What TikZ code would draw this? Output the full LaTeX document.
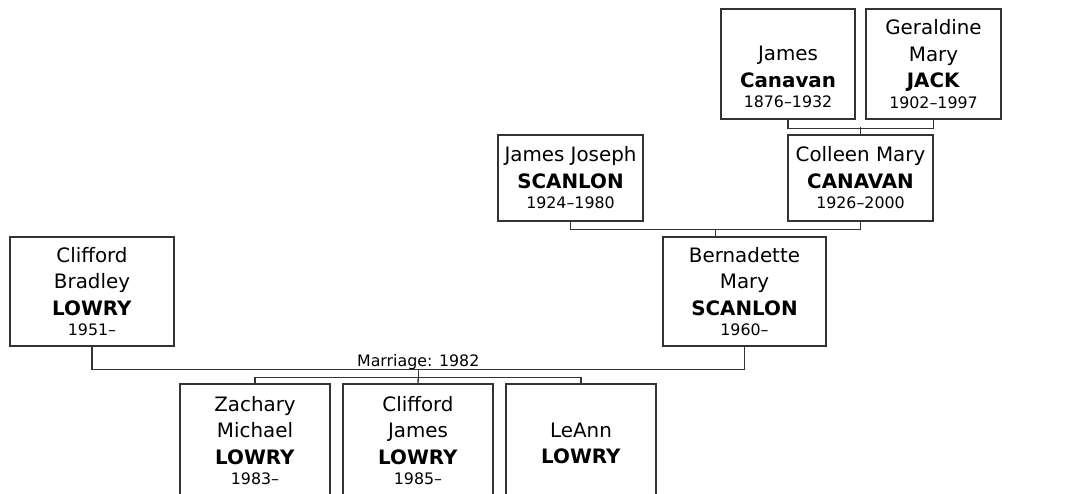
\documentclass[tikz,border=0pt]{standalone}
\usepackage{fontspec}
\setmainfont{DejaVu Sans}
\usepackage{tikz}
\usetikzlibrary{calc}
\newcommand{\treenamefont}{\fontsize{11.3}{15}\selectfont}
\newcommand{\treedatefont}{\fontsize{9}{11}\selectfont}
\tikzset{
  tree-person/.style={draw=black!80, fill=white, line width=0.75pt, align=center, inner sep=0pt,
    font=\treenamefont},
  tree-link/.style={draw=black!80, line width=0.75pt},
  tree-label/.style={font=\treedatefont, anchor=base, inner sep=0pt}
}

\begin{document}
\begin{tikzpicture}
  \useasboundingbox[fill=white] (0,0) rectangle (21.32,-9.86);
  \node[tree-person, minimum width=2.68cm, minimum height=2.2cm] (jc) at (15.76,-1.28)
    {\vphantom{Jg}\\James\\\textbf{Canavan}\\[-3.3pt]{\treedatefont 1876–1932}};
  \node[tree-person, minimum width=2.7cm, minimum height=2.2cm] (gj) at (18.67,-1.28)
    {Geraldine\\Mary\\\textbf{JACK}\\[-3.3pt]{\treedatefont 1902–1997}};
  \node[tree-person, minimum width=2.9cm, minimum height=1.72cm] (js) at (11.41,-3.56)
    {James Joseph\\\textbf{SCANLON}\\[-3.3pt]{\treedatefont 1924–1980}};
  \node[tree-person, minimum width=2.9cm, minimum height=1.72cm] (cc) at (17.21,-3.56)
    {Colleen Mary\\\textbf{CANAVAN}\\[-3.3pt]{\treedatefont 1926–2000}};
  \node[tree-person, minimum width=3.28cm, minimum height=2.18cm] (cl) at (1.84,-5.83)
    {Clifford\\Bradley\\\textbf{LOWRY}\\[-3.3pt]{\treedatefont 1951–}};
  \node[tree-person, minimum width=3.26cm, minimum height=2.18cm] (bs) at (14.89,-5.83)
    {Bernadette\\Mary\\\textbf{SCANLON}\\[-3.3pt]{\treedatefont 1960–}};
  \node[tree-person, minimum width=3.0cm, minimum height=2.26cm] (zl) at (5.1,-8.81)
    {Zachary\\Michael\\\textbf{LOWRY}\\[-3.3pt]{\treedatefont 1983–}};
  \node[tree-person, minimum width=3.0cm, minimum height=2.26cm] (cjl) at (8.36,-8.81)
    {Clifford\\James\\\textbf{LOWRY}\\[-3.3pt]{\treedatefont 1985–}};
  \node[tree-person, minimum width=3.0cm, minimum height=2.26cm] (ll) at (11.62,-8.81)
    {\vphantom{Zg}\\LeAnn\\\textbf{LOWRY}\\[-3.3pt]{\treedatefont\vphantom{1}}};
  \draw[tree-link] (jc.south) -- ++(0,-0.18) -| (gj.south);
  \draw[tree-link] (cc.north) -- ++(0,0.14);
  \coordinate (jscc) at ($(js.south)!0.5!(cc.south)+(0,-0.16)$);
  \draw[tree-link] (js.south) |- (jscc) -| (cc.south);
  \draw[tree-link] (jscc) -- (jscc |- bs.north);
  \coordinate (clbs) at ($(cl.south)!0.5!(bs.south)+(0,-0.46)$);
  \draw[tree-link] (cl.south) |- (clbs) -| (bs.south);
  \node[tree-label] (marriage) at ($(clbs)+(0,0.07)$) {Marriage: 1982};
  \coordinate (kids) at ($(clbs)+(0,-0.16)$);
  \draw[tree-link] (clbs) -- (kids);
  \draw[tree-link] (zl.north) |- (kids) -| (ll.north);
  \draw[tree-link] (kids) -- (cjl.north);
\end{tikzpicture}
\end{document}
